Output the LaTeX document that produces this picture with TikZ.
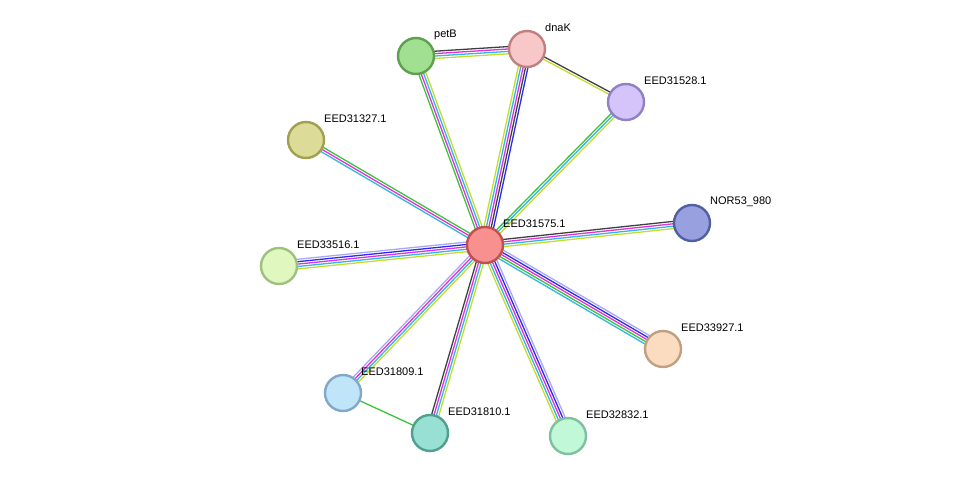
\documentclass[tikz,border=0pt]{standalone}
\usepackage{fontspec}
\setmainfont{Liberation Sans}
\usetikzlibrary{calc}
\definecolor{cgr}{HTML}{3CC23C}
\definecolor{cbl}{HTML}{2A2AF0}
\definecolor{cbk}{HTML}{404040}
\definecolor{cmg}{HTML}{E030E0}
\definecolor{ccy}{HTML}{30B8E0}
\definecolor{cyl}{HTML}{C4DC30}
\definecolor{clv}{HTML}{A8A8F4}
\newcommand\medge[4]{%
  \foreach \cc [count=\i] in {#4}{%
    \pgfmathsetmacro\oo{(\i-1-(#3-1)/2)*2.4}%
    \draw[\cc, line width=1.3pt] ($(#1)!\oo pt!90:(#2)$) -- ($(#2)!\oo pt!-90:(#1)$);
  }}
\newcommand\prot[4]{% name, fill, border, label
  \definecolor{f#1}{HTML}{#2}\definecolor{b#1}{HTML}{#3}%
  \node[prot, fill=f#1, draw=b#1] (n#1) at (#1) {};
  \node[lab] (l#1) at ($(#1)+(18,-21)$) {#4};}
\begin{document}
\begin{tikzpicture}[x=1pt,y=-1pt,
  prot/.style={circle, minimum size=36pt, inner sep=0pt, line width=2.4pt},
  lab/.style={anchor=west, font=\fontsize{11}{12}\selectfont, inner sep=0pt}]
\useasboundingbox (0,0) rectangle (975,482);
\coordinate (petB) at (416,56);
\coordinate (dnaK) at (527,49);
\coordinate (e28) at (626,102);
\coordinate (e27) at (306,140);
\coordinate (nor) at (692,223);
\coordinate (c) at (485,245);
\coordinate (e16) at (279,266);
\coordinate (e3927) at (663,349);
\coordinate (e09) at (343,393);
\coordinate (e10) at (430,433);
\coordinate (e32) at (568,436);
\medge{c}{petB}{4}{cyl,ccy,cmg,cgr}
\medge{c}{dnaK}{5}{cbl,cbk,cmg,ccy,cyl}
\medge{c}{e28}{3}{cyl,ccy,cgr}
\medge{petB}{dnaK}{4}{cyl,ccy,cmg,cbk}
\medge{dnaK}{e28}{2}{cyl,cbk}
\medge{c}{e27}{3}{cgr,cmg,ccy}
\medge{c}{nor}{4}{cyl,ccy,cmg,cbk}
\medge{c}{e16}{5}{clv,cbl,cmg,ccy,cyl}
\medge{c}{e3927}{5}{ccy,cgr,cmg,cbl,clv}
\medge{c}{e32}{5}{cyl,ccy,cmg,cbl,clv}
\medge{c}{e10}{4}{cbk,cmg,ccy,cyl}
\medge{c}{e09}{4}{clv,cmg,ccy,cyl}
\medge{e09}{e10}{1}{cgr}
\prot{petB}{A0E090}{5FA050}{petB}
\prot{dnaK}{F8C8C8}{C08080}{dnaK}
\prot{e28}{D4C4FA}{9080C4}{EED31528.1}
\prot{e27}{DCDC98}{A0A050}{EED31327.1}
\prot{nor}{98A0E0}{5060A0}{NOR53\_980}
\prot{c}{F89090}{C05050}{EED31575.1}
\prot{e16}{E0F8C0}{A0C080}{EED33516.1}
\prot{e3927}{FCDCC0}{C0A080}{EED33927.1}
\prot{e09}{C0E4F8}{80A8C8}{EED31809.1}
\prot{e10}{98E0D4}{50A090}{EED31810.1}
\prot{e32}{C0F8D8}{80C0A0}{EED32832.1}
\end{tikzpicture}
\end{document}
